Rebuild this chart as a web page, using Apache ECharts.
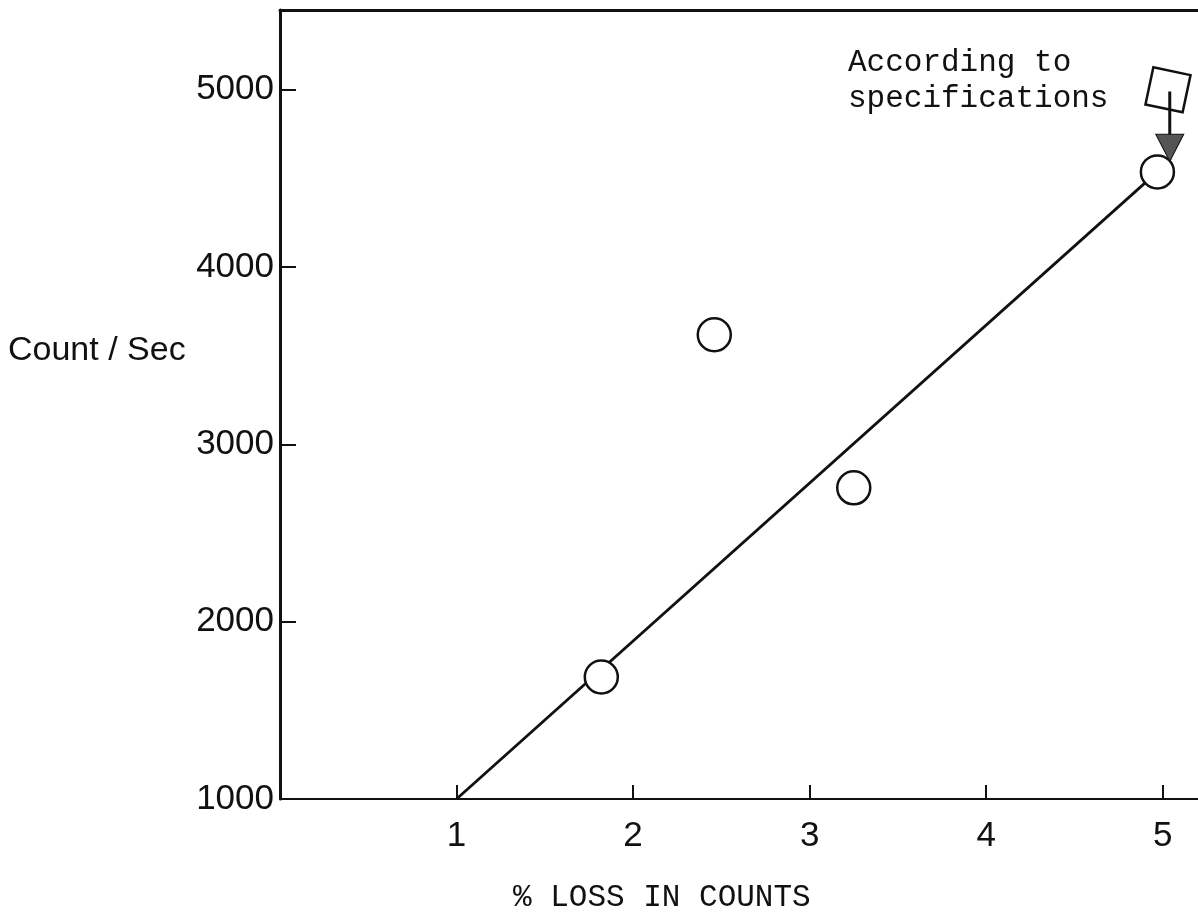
<!DOCTYPE html>
<html>
<head>
<meta charset="utf-8">
<script src="https://cdn.jsdelivr.net/npm/echarts@6/dist/echarts.min.js"></script>
<style>
    html, body { margin: 0; padding: 0; background: #fff; }
    #chart { width: 1198px; height: 912px; }
</style>
</head>
<body>
<div id="chart"></div>
<script>
    // measured points (% loss, count/sec)
    var measured = [
        [1.82, 1688],
        [2.46, 3618],
        [3.25, 2755],
        [4.97, 4537]
    ];
    // fitted straight line
    var fitLine = [
        [1.0, 1000],
        [4.97, 4537]
    ];
    // specification point and its arrow
    var specPoint = [[5.03, 5000]];
    var specArrow = [[5.04, 4990], [5.04, 4605]];

    var xTicks = [1, 2, 3, 4, 5];
    var yTicks = [1000, 2000, 3000, 4000, 5000];

    var ink = '#111';
    var sans = "'Liberation Sans', 'DejaVu Sans', sans-serif";
    var mono = "'Liberation Mono', 'DejaVu Sans Mono', monospace";

    function plain(v) { return String(v); }

    var chart = echarts.init(document.getElementById('chart'));
    chart.setOption({
        animation: false,
        backgroundColor: '#fff',
        grid: { left: 280, right: 0, top: 10, bottom: 113 },
        xAxis: [{
            type: 'value',
            min: 0,
            max: 5.2,
            splitLine: { show: false },
            axisLine: { lineStyle: { color: ink, width: 2 } },
            axisTick: { inside: true, length: 14, customValues: xTicks, lineStyle: { color: ink, width: 2 } },
            axisLabel: { color: ink, fontFamily: sans, fontSize: 35, margin: 20, customValues: xTicks, formatter: plain }
        }, {
            // top frame line
            type: 'value',
            position: 'top',
            min: 0,
            max: 5.2,
            splitLine: { show: false },
            axisLine: { lineStyle: { color: ink, width: 3 } },
            axisTick: { show: false },
            axisLabel: { show: false }
        }],
        yAxis: {
            type: 'value',
            min: 1000,
            max: 5450,
            splitLine: { show: false },
            axisLine: { lineStyle: { color: ink, width: 3 } },
            axisTick: { inside: true, length: 16, customValues: yTicks, lineStyle: { color: ink, width: 2 } },
            axisLabel: { color: ink, fontFamily: sans, fontSize: 35, margin: 6, customValues: yTicks, formatter: plain }
        },
        series: [
            {
                type: 'line',
                data: fitLine,
                symbol: 'none',
                lineStyle: { color: ink, width: 2.8 },
                z: 2
            },
            {
                type: 'scatter',
                data: measured,
                symbol: 'circle',
                symbolSize: 33,
                itemStyle: { color: '#fff', borderColor: ink, borderWidth: 2.5, opacity: 1 },
                z: 3
            },
            {
                type: 'scatter',
                data: specPoint,
                symbol: 'rect',
                symbolSize: 38,
                symbolRotate: -12,
                itemStyle: { color: '#fff', borderColor: ink, borderWidth: 2.5, opacity: 1 },
                z: 3
            },
            {
                type: 'line',
                data: specArrow,
                symbol: 'none',
                lineStyle: { color: ink, width: 3 },
                z: 4,
                markPoint: {
                    symbol: 'triangle',
                    symbolSize: [28, 27],
                    symbolRotate: 180,
                    symbolOffset: [0, -12],
                    itemStyle: { color: '#555', borderColor: ink, borderWidth: 1 },
                    label: { show: false },
                    data: [{ coord: specArrow[1] }]
                }
            }
        ],
        graphic: [
            {
                type: 'text',
                left: 848,
                top: 45,
                style: {
                    text: 'According to\nspecifications',
                    font: '31px ' + mono,
                    lineHeight: 36,
                    fill: ink
                }
            },
            {
                type: 'text',
                left: 8,
                top: 334,
                style: { text: 'Count / Sec', font: '34px ' + sans, fill: ink }
            },
            {
                type: 'text',
                left: 513,
                top: 882,
                style: { text: '% LOSS IN COUNTS', font: '31px ' + mono, fill: ink }
            }
        ]
    });
</script>
</body>
</html>
